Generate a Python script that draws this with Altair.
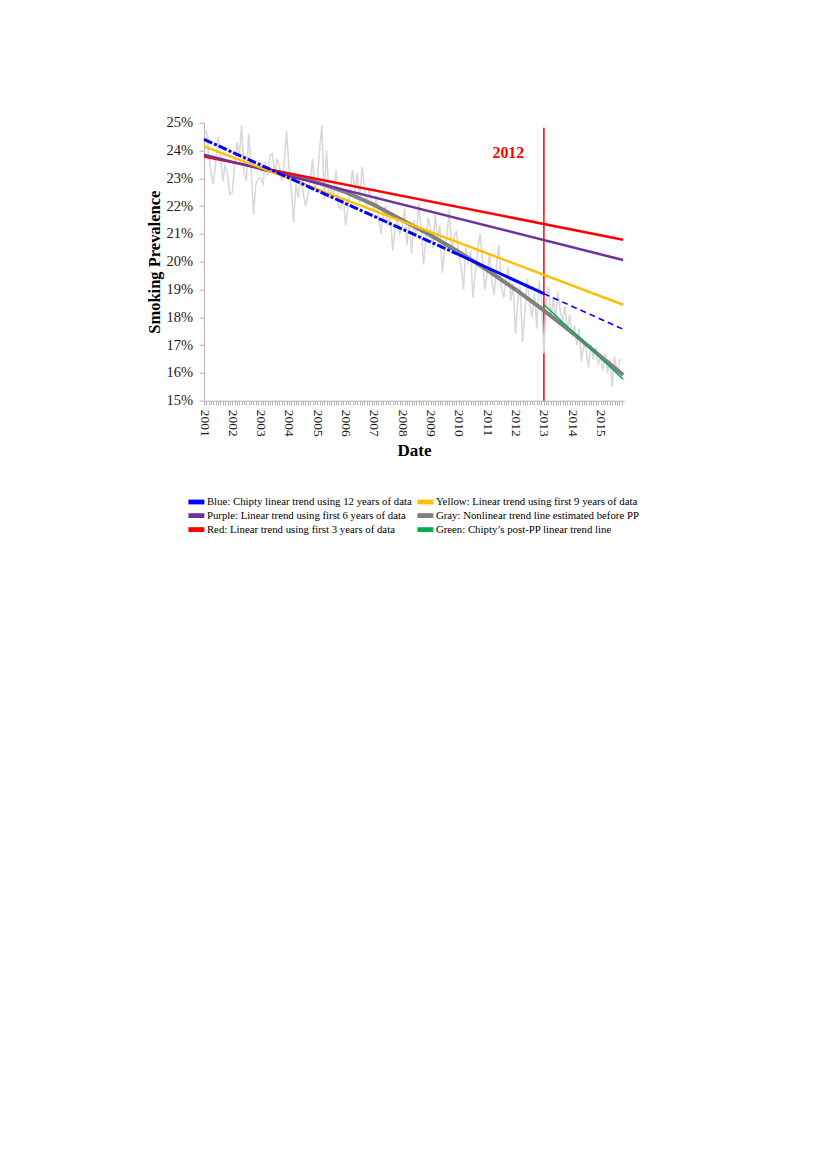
import altair as alt
import pandas as pd

# ---- monthly smoking prevalence (%), Jan 2001 .. Oct 2015
PREV_2001 = [24.6, 24.7, 23.9, 23.2, 22.8, 23.6, 24.5, 23.8, 22.9, 23.5, 23.1, 22.4]
PREV_2002 = [22.5, 23.5, 24.3, 23.8, 24.9, 23.2, 22.9, 24.6, 23.3, 21.7, 22.8, 23.0]
PREV_2003 = [23.0, 22.8, 23.6, 23.1, 23.8, 23.9, 23.2, 23.7, 23.4, 22.9, 23.5, 24.7]
PREV_2004 = [23.4, 22.6, 21.4, 22.8, 22.3, 23.0, 22.5, 22.0, 22.4, 22.9, 23.7, 22.6]
PREV_2005 = [22.9, 24.1, 24.9, 22.2, 24.0, 22.3, 22.6, 22.4, 23.3, 22.0, 21.9, 22.3]
PREV_2006 = [21.3, 22.0, 22.6, 23.3, 22.5, 23.2, 22.1, 23.4, 22.7, 22.0, 22.6, 22.2]
PREV_2007 = [21.8, 22.4, 21.6, 21.0, 21.7, 22.0, 21.3, 21.6, 20.4, 21.2, 21.6, 21.0]
PREV_2008 = [21.2, 21.9, 20.6, 21.4, 20.3, 21.5, 20.9, 22.1, 21.2, 19.9, 20.8, 21.6]
PREV_2009 = [21.1, 20.5, 21.7, 20.8, 21.3, 19.6, 20.4, 21.0, 21.9, 20.3, 20.9, 21.1]
PREV_2010 = [20.2, 19.8, 19.0, 20.5, 19.9, 20.4, 18.7, 19.6, 20.4, 21.0, 20.1, 19.0]
PREV_2011 = [19.6, 20.3, 19.3, 18.8, 19.9, 20.6, 19.1, 18.7, 19.4, 19.8, 18.6, 19.2]
PREV_2012 = [17.4, 18.6, 19.1, 17.1, 18.2, 19.4, 18.5, 18.0, 18.9, 17.6, 19.3, 18.6]
PREV_2013 = [16.7, 18.6, 19.1, 18.0, 18.7, 17.9, 18.9, 18.2, 17.9, 18.4, 17.5, 18.1]
PREV_2014 = [17.3, 17.7, 17.0, 17.6, 16.4, 17.1, 16.8, 16.2, 17.0, 16.5, 16.9, 16.3]
PREV_2015 = [16.6, 16.1, 16.7, 16.0, 16.5, 15.5, 16.6, 16.0, 16.4, 16.5]

YEARLY = [PREV_2001, PREV_2002, PREV_2003, PREV_2004, PREV_2005, PREV_2006, PREV_2007,
          PREV_2008, PREV_2009, PREV_2010, PREV_2011, PREV_2012, PREV_2013, PREV_2014, PREV_2015]
FIRST_YEAR = 2001

# ---- trend lines (dates, values)
BLUE_A_DATES = ["2001-01-01", "2010-01-01"]
BLUE_A_VALUES = [24.4, 20.25]
BLUE_B_DATES = ["2010-01-01", "2013-01-01"]
BLUE_B_VALUES = [20.25, 18.85]
BLUE_C_DATES = ["2013-01-01", "2015-10-20"]
BLUE_C_VALUES = [18.85, 17.57]
YELLOW_DATES = ["2001-01-01", "2015-10-20"]
YELLOW_VALUES = [24.15, 18.45]
PURPLE_DATES = ["2001-01-01", "2015-10-20"]
PURPLE_VALUES = [23.85, 20.06]
RED_DATES = ["2001-01-01", "2015-10-20"]
RED_VALUES = [23.78, 20.79]
GRAY_DATES = ["2003-01-01", "2004-01-01", "2005-01-01", "2006-01-01", "2007-01-01",
              "2008-01-01", "2009-01-01", "2010-01-01", "2011-01-01", "2012-01-01",
              "2013-01-01", "2014-01-01", "2015-01-01", "2015-10-20"]
GRAY_VALUES = [23.35, 23.15, 22.85, 22.5, 22.05, 21.5, 20.95, 20.35, 19.7, 19.0,
               18.25, 17.45, 16.6, 15.93]
GREEN_DATES = ["2013-01-01", "2015-10-20"]
GREEN_VALUES = [18.46, 15.77]

PP_DATE = ["2013-01-01"]
PP_LOW = [15.0]
PP_HIGH = [24.82]
PP_LABEL = ["2012"]
PP_LABEL_DATE = ["2011-10-01"]
PP_LABEL_VALUE = [23.9]

# legend entries, listed column by column
LEGEND_LABELS = [
    "Blue: Chipty linear trend using 12 years of data",
    "Purple: Linear trend using first 6 years of data",
    "Red: Linear trend using first 3 years of data",
    "Yellow: Linear trend using first 9 years of data",
    "Gray: Nonlinear trend line estimated before PP",
    "Green: Chipty\u2019s post-PP linear trend line",
]
LEGEND_COLORS = ["#0000ff", "#7030a0", "#ff0000", "#ffc000", "#808080", "#00b050"]

FONT = "Liberation Serif"

rows = []
for i, vals in enumerate(YEARLY):
    for m, v in enumerate(vals):
        rows.append({"date": f"{FIRST_YEAR + i}-{m + 1:02d}-01", "value": v})
data_df = pd.DataFrame(rows)

xscale = alt.Scale(domain=[alt.DateTime(year=2001, month=1, date=1),
                           alt.DateTime(year=2015, month=10, date=31)], nice=False)
yscale = alt.Scale(domain=[15, 25], nice=False, zero=False)

xaxis = alt.Axis(
    title="Date", tickCount={"interval": "month", "step": 1},
    labelExpr="month(datum.value) == 0 ? timeFormat(datum.value, '%Y') : ''",
    labelOverlap=False, labelAngle=90, labelAlign="left", labelBaseline="middle",
    labelFont=FONT, labelFontSize=13.5, labelColor="#1a1a1a", labelPadding=4.5,
    tickSize=4, tickColor="#b3b3b3", domainColor="#b3b3b3", grid=False,
    titleFont=FONT, titleFontSize=17, titleFontWeight="bold", titleColor="black",
    titlePadding=6,
)
yaxis = alt.Axis(
    title="Smoking Prevalence", values=list(range(15, 26)),
    labelExpr="datum.value + '%'",
    labelFont=FONT, labelFontSize=14.5, labelColor="#1a1a1a", labelPadding=6.5,
    tickSize=5, tickColor="#b3b3b3", domainColor="#b3b3b3", grid=False,
    titleFont=FONT, titleFontSize=16.5, titleFontWeight="bold", titleColor="black",
    titlePadding=3,
)

X = alt.X("date:T", scale=xscale, axis=xaxis)
Y = alt.Y("value:Q", scale=yscale, axis=yaxis)


def seg(dates, values, color, width, dash=None):
    df = pd.DataFrame({"date": dates, "value": values})
    kw = dict(color=color, strokeWidth=width)
    if dash:
        kw["strokeDash"] = dash
    return alt.Chart(df).mark_line(**kw).encode(x=X, y=Y)


rule = alt.Chart(pd.DataFrame({"date": PP_DATE, "value": PP_LOW, "high": PP_HIGH})).mark_rule(
    color="#ff0000", strokeWidth=1.5).encode(x=X, y=Y, y2="high:Q")

data_line = alt.Chart(data_df).mark_line(color="#d9d9d9", strokeWidth=1.6).encode(x=X, y=Y)

label = alt.Chart(pd.DataFrame({"date": PP_LABEL_DATE, "value": PP_LABEL_VALUE, "t": PP_LABEL})).mark_text(
    font=FONT, fontSize=16, fontWeight="bold", color="#ff0000").encode(x=X, y=Y, text="t:N")

gray = seg(GRAY_DATES, GRAY_VALUES, "#808080", 4)
red = seg(RED_DATES, RED_VALUES, "#ff0000", 2.5)
purple = seg(PURPLE_DATES, PURPLE_VALUES, "#7030a0", 2.5)
yellow = seg(YELLOW_DATES, YELLOW_VALUES, "#ffc000", 2.5)
blue_a = seg(BLUE_A_DATES, BLUE_A_VALUES, "#0000ff", 3, [9, 2, 3, 2])
blue_b = seg(BLUE_B_DATES, BLUE_B_VALUES, "#0000ff", 3)
blue_c = seg(BLUE_C_DATES, BLUE_C_VALUES, "#0000ff", 1.6, [6, 4])
green = seg(GREEN_DATES, GREEN_VALUES, "#00b050", 1.6)

legend_df = pd.DataFrame({"date": ["2001-01-01"] * 6, "value": [15.0] * 6, "series": LEGEND_LABELS})
legend_layer = alt.Chart(legend_df).mark_square(opacity=0).encode(
    x=X, y=Y,
    color=alt.Color("series:N",
                    scale=alt.Scale(domain=LEGEND_LABELS, range=LEGEND_COLORS),
                    sort=LEGEND_LABELS,
                    legend=alt.Legend(
                        orient="none", legendX=-17, legendY=373.5, columns=2, title=None,
                        symbolType="M-2,-0.6H2V0.6H-2Z", symbolSize=64, symbolOffset=4,
                        symbolOpacity=1, symbolStrokeWidth=0,
                        labelFont=FONT, labelFontSize=10.8, labelColor="black",
                        labelLimit=400, labelOffset=5.1, rowPadding=2,
                        columnPadding=4, padding=0,
                    )),
)

chart = alt.layer(
    rule, data_line, gray, red, purple, yellow, blue_a, blue_b, blue_c, green, label, legend_layer
).properties(
    width=420, height=278,
    autosize=alt.AutoSizeParams(type="none"),
    padding={"left": 196, "top": 114.7, "right": 190, "bottom": 160},
).configure_view(stroke=None)

chart.save("out.html", embed_options={"renderer": "svg", "actions": False})
